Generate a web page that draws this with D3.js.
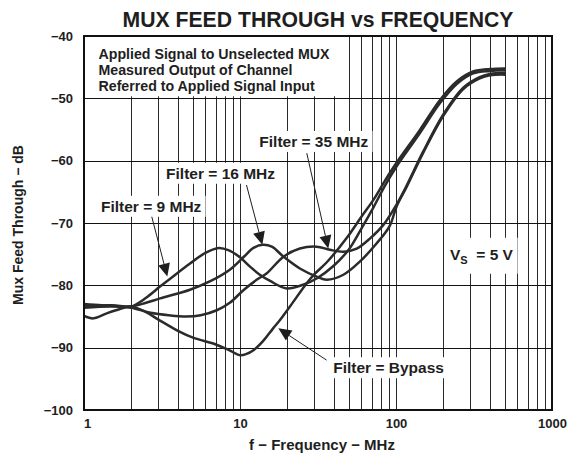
<!DOCTYPE html>
<html>
<head>
<meta charset="utf-8">
<script src="https://cdn.jsdelivr.net/npm/d3@7"></script>
<style>
  body { margin: 0; background: #fff; }
  text { font-family: "Liberation Sans", Arial, Helvetica, sans-serif; font-weight: bold; fill: #1e1e1e; }
</style>
</head>
<body>
<svg id="chart" width="569" height="463"></svg>
<script>
// ---- chart values ----
const chartTitle = "MUX FEED THROUGH vs FREQUENCY";
const xTitle = "f \u2212 Frequency \u2212 MHz";
const yTitle = "Mux Feed Through \u2212 dB";
const xTickValues = [1, 10, 100, 1000];
const yTickValues = [-100, -90, -80, -70, -60, -50, -40];
const noteLines = ["Applied Signal to Unselected MUX", "Measured Output of Channel", "Referred to Applied Signal Input"];

// [frequency MHz, feed through dB]
const bypass = [
  [1, -84.9], [1.15, -85.3], [1.4, -84.5], [1.7, -83.8], [2.0, -83.4], [2.5, -84.3], [3.0, -85.5],
  [4.0, -87.3], [5.0, -88.4], [7.0, -89.5], [8.5, -90.4], [10, -91.2], [11, -91.0], [12.2, -90.4],
  [14, -89.0], [16.3, -86.9], [18, -85.6], [20.9, -83.4], [26.7, -79.7], [30, -78.2], [36, -76.3],
  [48, -72.5], [60, -69.0], [72, -66.2], [85, -63.2], [101, -60.3], [142, -55.1], [191, -50.3],
  [245, -47.3], [312, -45.7], [400, -45.3], [500, -45.2]
];
const filter9 = [
  [1, -83.0], [1.3, -83.2], [1.6, -83.3], [2.0, -83.4], [2.5, -82.0], [3.07, -80.2], [3.5, -79.1],
  [4.78, -76.5], [6.0, -74.8], [7.3, -74.0], [8.5, -74.4], [10, -75.5], [11.6, -77.0], [13.4, -78.3],
  [15.6, -79.3], [19.9, -80.5], [25.4, -79.9], [31, -78.9], [39.7, -76.9], [50, -74.2], [60, -70.9],
  [72, -67.4], [85, -64.0], [101, -60.9], [142, -55.6], [191, -50.8], [245, -47.7], [312, -46.0],
  [400, -45.6], [500, -45.5]
];
const filter16 = [
  [1, -83.3], [1.5, -83.2], [2.0, -83.4], [2.5, -82.8], [3.07, -82.1], [4.78, -80.7], [6.5, -79.3],
  [8.6, -77.5], [10.5, -75.5], [12.2, -74.0], [14, -73.5], [16, -73.8], [19, -75.4], [24.2, -77.3],
  [31, -78.6], [36, -79.1], [46, -78.3], [58.6, -76.2], [75, -73.3], [91, -70.5], [101, -67.3],
  [117, -64.2], [149, -58.8], [201, -52.8], [270, -48.5], [344, -46.8], [400, -46.3], [500, -46.2]
];
const filter35 = [
  [1, -83.6], [1.5, -83.4], [2.0, -83.6], [2.67, -84.4], [3.5, -84.8], [4.5, -85.0], [5.6, -84.8],
  [7.1, -84.0], [8.6, -82.8], [10.6, -80.7], [13, -79.0], [14.8, -78.1], [19, -75.4], [24.2, -74.1],
  [31, -73.8], [37.7, -74.3], [46, -74.6], [56, -74.1], [68, -72.5], [83, -70.3], [101, -67.0],
  [117, -64.0], [149, -58.6], [201, -52.6], [270, -48.3], [344, -46.6], [400, -46.1], [500, -45.9]
];
const seriesList = [bypass, filter9, filter16, filter35];

// ---- layout ----
const svg = d3.select("#chart");
const plotLeft = 84, plotRight = 552, plotTop = 36, plotBottom = 410;
const x = d3.scaleLog().domain([1, 1000]).range([plotLeft, plotRight]);
const y = d3.scaleLinear().domain([-100, -40]).range([plotBottom, plotTop]);

// grid
const grid = svg.append("g").attr("stroke", "#2a2a2a").attr("stroke-width", 1);
grid.selectAll("line.v").data(x.ticks().filter(d => d > 1 && d < 1000)).join("line")
  .attr("class", "v")
  .attr("x1", d => Math.round(x(d)) + 0.5).attr("x2", d => Math.round(x(d)) + 0.5)
  .attr("y1", plotTop).attr("y2", plotBottom);
grid.selectAll("line.h").data(yTickValues.slice(1, -1)).join("line")
  .attr("class", "h")
  .attr("x1", plotLeft).attr("x2", plotRight)
  .attr("y1", d => Math.round(y(d)) + 0.5).attr("y2", d => Math.round(y(d)) + 0.5)
  .attr("stroke", "#111");

// white boxes behind the annotations
const boxLayer = svg.append("g");

// curves
const line = d3.line()
  .x(d => x(d[0])).y(d => y(d[1]))
  .curve(d3.curveCatmullRom.alpha(0.5));
svg.append("g").selectAll("path").data(seriesList).join("path")
  .attr("d", line)
  .attr("fill", "none")
  .attr("stroke", "#2b2b2b")
  .attr("stroke-width", 2.5)
  .attr("stroke-linejoin", "round");

// frame
svg.append("rect")
  .attr("x", plotLeft).attr("y", plotTop).attr("width", plotRight - plotLeft).attr("height", plotBottom - plotTop)
  .attr("fill", "none").attr("stroke", "#111").attr("stroke-width", 2);

// axes
const yAxis = d3.axisLeft(y).tickValues(yTickValues).tickSize(0).tickPadding(11);
const gy = svg.append("g").attr("transform", `translate(${plotLeft},0)`).call(yAxis);
gy.select(".domain").remove();
gy.selectAll("text").style("font-size", "13px").attr("fill", "#1e1e1e")
  .style("font-family", "'Liberation Sans', Arial, sans-serif").style("font-weight", "bold");

const xAxis = d3.axisBottom(x).tickValues(xTickValues).tickFormat(d3.format("d")).tickSize(0).tickPadding(9);
const gx = svg.append("g").attr("transform", `translate(0,${plotBottom})`).call(xAxis);
gx.select(".domain").remove();
gx.selectAll("text").style("font-size", "13px").attr("fill", "#1e1e1e")
  .style("font-family", "'Liberation Sans', Arial, sans-serif").style("font-weight", "bold")
  .attr("dx", d => d === 1 ? 3 : 0);

// titles
svg.append("text").attr("x", 318).attr("y", 27).attr("text-anchor", "middle")
  .style("font-size", "21.2px").text(chartTitle);
svg.append("text").attr("x", 322).attr("y", 450).attr("text-anchor", "middle")
  .style("font-size", "15px").text(xTitle);
svg.append("text").attr("transform", `translate(23,${(plotTop + plotBottom) / 2 + 2}) rotate(-90)`)
  .attr("text-anchor", "middle").style("font-size", "14px").text(yTitle);

// note block in the upper left
const note = svg.append("g");
note.selectAll("text").data(noteLines).join("text")
  .attr("x", 98.5).attr("y", (d, i) => 58.7 + i * 16.3)
  .style("font-size", "14.2px").text(d => d);
const nb = note.node().getBBox();
boxLayer.append("rect").attr("x", plotLeft).attr("y", plotTop)
  .attr("width", nb.x + nb.width + 9 - plotLeft).attr("height", nb.y + nb.height + 2 - plotTop)
  .attr("fill", "#fff");

// labelled arrows: label anchor, arrow tail and tip in chart units
const callouts = [
  { text: "Filter = 9 MHz", at: [1.285, -68.2], tail: [2.72, -69.0], tip: [3.42, -78.6] },
  { text: "Filter = 16 MHz", at: [3.36, -62.9], tail: [11.0, -63.9], tip: [13.9, -73.5] },
  { text: "Filter = 35 MHz", at: [13.3, -57.8], tail: [26.8, -58.8], tip: [36.8, -74.1] },
  { text: "Filter = Bypass", at: [39.6, -94.1], tail: [35.9, -92.0], tip: [17.6, -86.9] }
];
const arrowLayer = svg.append("g");
callouts.forEach(c => {
  const t = svg.append("text").attr("x", x(c.at[0])).attr("y", y(c.at[1]))
    .style("font-size", "15.5px").text(c.text);
  const b = t.node().getBBox();
  boxLayer.append("rect").attr("x", b.x - 4).attr("y", b.y - 2)
    .attr("width", b.width + 8).attr("height", b.height + 4).attr("fill", "#fff");
  const x0 = x(c.tail[0]), y0 = y(c.tail[1]), x1 = x(c.tip[0]), y1 = y(c.tip[1]);
  const ang = Math.atan2(y1 - y0, x1 - x0);
  const len = 13, half = 6;
  const bx = x1 - len * Math.cos(ang), by = y1 - len * Math.sin(ang);
  arrowLayer.append("line").attr("x1", x0).attr("y1", y0).attr("x2", bx).attr("y2", by)
    .attr("stroke", "#1e1e1e").attr("stroke-width", 1);
  arrowLayer.append("path")
    .attr("d", `M${x1},${y1}L${bx + half * Math.sin(ang)},${by - half * Math.cos(ang)}L${bx - half * Math.sin(ang)},${by + half * Math.cos(ang)}Z`)
    .attr("fill", "#1e1e1e");
});

// supply voltage label
const vs = svg.append("text").attr("x", x(222)).attr("y", y(-75.9)).style("font-size", "15.5px");
vs.append("tspan").text("V");
vs.append("tspan").attr("dy", 4).style("font-size", "11px").text("S");
vs.append("tspan").attr("dy", -4).text("\u00a0 = 5 V");
const vb = vs.node().getBBox();
boxLayer.append("rect").attr("x", vb.x - 4).attr("y", vb.y - 8)
  .attr("width", vb.width + 8).attr("height", vb.height + 16).attr("fill", "#fff");
</script>
</body>
</html>
